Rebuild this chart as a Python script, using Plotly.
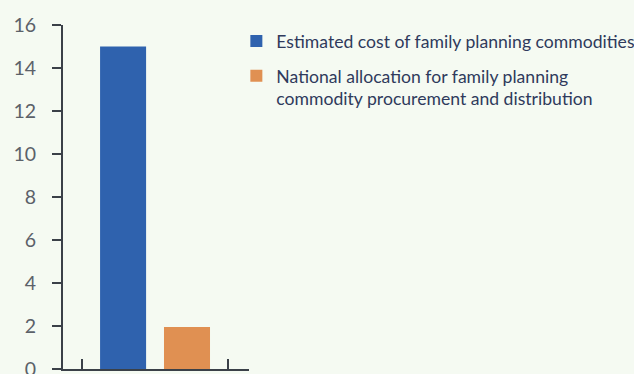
import plotly.graph_objects as go

series_names = [
    "Estimated cost of family planning commodities",
    "National allocation for family planning<br>commodity procurement and distribution",
]
series_values = [15, 1.95]
series_positions = [1, 2]
colors = ["#2f62ae", "#e09052"]
y_ticks = [0, 2, 4, 6, 8, 10, 12, 14, 16]

fig = go.Figure()
for i, (name, val, pos, col) in enumerate(zip(series_names, series_values, series_positions, colors)):
    fig.add_trace(go.Bar(x=[pos], y=[val], name=name, legendgroup=f"g{i}",
                         marker=dict(color=col, line=dict(width=0)), width=0.72))

fig.update_layout(
    width=634, height=374,
    margin=dict(l=63, r=385, t=25, b=5, autoexpand=False),
    paper_bgcolor="#f5faf2", plot_bgcolor="#f5faf2",
    barmode="overlay",
    font=dict(family="Lato", color="#5b6169"),
    legend=dict(x=0.932, y=1.006, xanchor="left", yanchor="top",
                font=dict(size=17.6, color="#2f3a5c", family="Lato"),
                bgcolor="rgba(0,0,0,0)", tracegroupgap=9, itemwidth=30,
                traceorder="grouped", valign="top"),
    xaxis=dict(range=[0.06, 2.97], showgrid=False, zeroline=False, automargin=False,
               showline=True, linecolor="#3a4048", linewidth=2,
               tickmode="array", tickvals=[0.36, 2.64], ticktext=["", ""],
               ticks="inside", ticklen=10, tickwidth=2, tickcolor="#3a4048",
               fixedrange=True),
    yaxis=dict(range=[0, 16], tickvals=y_ticks, showgrid=False, zeroline=False, automargin=False,
               showline=True, linecolor="#3a4048", linewidth=2,
               ticks="outside", ticklen=9, tickwidth=1.5, tickcolor="#3a4048",
               tickfont=dict(size=19.5, color="#5b6169", family="Lato"),
               ticklabelstandoff=12, ticklabeloverflow="allow"),
    showlegend=True,
)
fig.write_html("out.html")
